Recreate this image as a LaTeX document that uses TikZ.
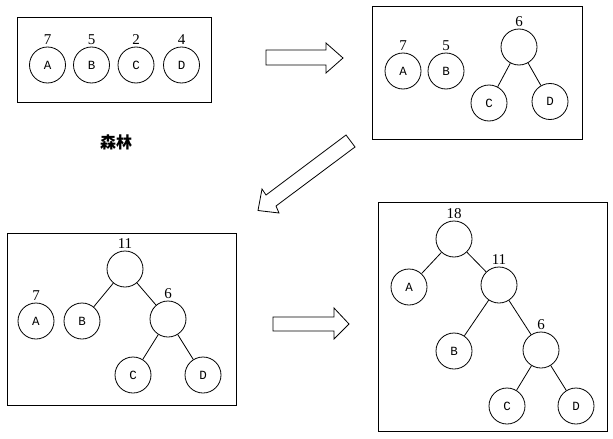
\documentclass[tikz,border=0pt]{standalone}
\usepackage{fontspec}
\setmainfont{Liberation Serif}
\newfontfamily\letterfont{Liberation Mono}
\newfontfamily\cjkfont{Noto Sans CJK SC}
\begin{document}
\begin{tikzpicture}[x=1pt,y=-1pt,
  frame/.style={draw, line width=0.8pt},
  vtx/.style={circle, draw, line width=0.8pt, minimum size=36pt, inner sep=0pt,
    font=\letterfont\fontsize{12.5}{14}\selectfont},
  lab/.style={font=\fontsize{15}{18}\selectfont, inner sep=0pt, label distance=2pt},
  edge/.style={draw, line width=0.8pt},
  blockarrow/.style={draw, fill=white, line width=0.8pt, line join=miter}
]
\useasboundingbox (0,0) rectangle (613,439);

% ---------- panel 1: forest
\draw[frame] (17,17) rectangle (211,102);
\node[vtx, label={[lab]above:7}] (a1) at (47.5,65) {A};
\node[vtx, label={[lab]above:5}] (b1) at (91.5,65) {B};
\node[vtx, label={[lab]above:2}] (c1) at (136,65) {C};
\node[vtx, label={[lab]above:4}] (d1) at (181.5,65) {D};
\node[font=\cjkfont\bfseries\fontsize{16}{18}\selectfont] (sl) at (116,142.5) {森林};

% ---------- arrow 1
\draw[blockarrow] (266,50) -- (326,50) -- (326,43) -- (343,58) -- (326,73) -- (326,65) -- (266,65) -- cycle;

% ---------- panel 2
\draw[frame] (372,6) rectangle (582,139);
\node[vtx, label={[lab]above:7}] (a2) at (403,71) {A};
\node[vtx, label={[lab]above:5}] (b2) at (446,71) {B};
\node[vtx, label={[lab]above:6}] (r2) at (519,47) {};
\node[vtx] (c2) at (489,103) {C};
\node[vtx] (d2) at (550,101.5) {D};
\path[edge] (r2) -- (c2);
\path[edge] (r2) -- (d2);

% ---------- diagonal arrow
\draw[blockarrow] (346,135) -- (355,147) -- (276,206) -- (279,213) -- (258,210.5) -- (262,189) -- (266,195) -- cycle;

% ---------- panel 3
\draw[frame] (7,233) rectangle (236,405);
\node[vtx, label={[lab]above:11}] (r3) at (125,269) {};
\node[vtx, label={[lab]above:6}] (s3) at (168,319) {};
\node[vtx, label={[lab]above:7}] (a3) at (36,321) {A};
\node[vtx] (b3) at (82,321) {B};
\node[vtx] (c3) at (133,375) {C};
\node[vtx] (d3) at (203,375) {D};
\path[edge] (r3) -- (b3);
\path[edge] (r3) -- (s3);
\path[edge] (s3) -- (c3);
\path[edge] (s3) -- (d3);

% ---------- arrow 3
\draw[blockarrow] (273,317) -- (334,317) -- (334,308) -- (349,324) -- (334,339) -- (334,331) -- (273,331) -- cycle;

% ---------- panel 4
\draw[frame] (378,202) rectangle (607,431);
\node[vtx, label={[lab]above:18}] (r4) at (454,239) {};
\node[vtx, label={[lab]above:11}] (s4) at (499,285) {};
\node[vtx, label={[lab]above:6}] (t4) at (541,350) {};
\node[vtx] (a4) at (409,287) {A};
\node[vtx] (b4) at (454,351) {B};
\node[vtx] (c4) at (507,406) {C};
\node[vtx] (d4) at (576,406) {D};
\path[edge] (r4) -- (a4);
\path[edge] (r4) -- (s4);
\path[edge] (s4) -- (b4);
\path[edge] (s4) -- (t4);
\path[edge] (t4) -- (c4);
\path[edge] (t4) -- (d4);
\end{tikzpicture}
\end{document}
